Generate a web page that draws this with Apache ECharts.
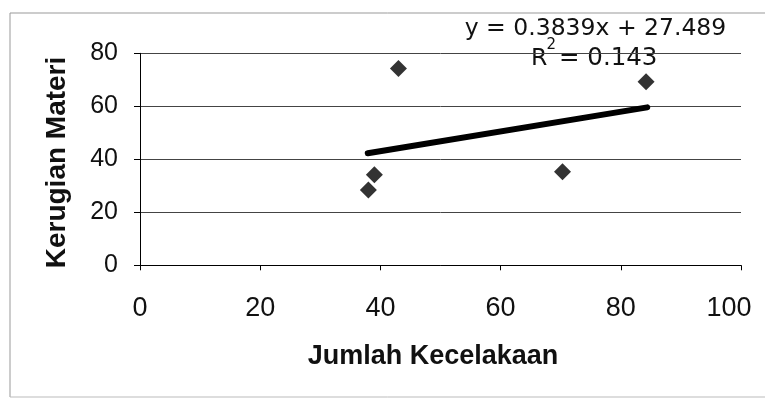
<!DOCTYPE html>
<html>
<head>
<meta charset="utf-8">
<style>
html,body{margin:0;padding:0;background:#fff;}
#c{width:765px;height:402px;}
</style>
<script src="https://cdn.jsdelivr.net/npm/echarts@6/dist/echarts.min.js"></script>
</head>
<body>
<div id="c"></div>
<script>
// Data
var jumlahKecelakaan = [43, 39, 38, 70.3, 84.2];
var kerugianMateri = [74.3, 34.2, 28.4, 35.3, 69.3];
var trendX = [37.9, 84.4];
var trendY = [42.3, 59.6];
var equationText = 'y = 0.3839x + 27.489';
var r2Value = '0.143';
var xTitle = 'Jumlah Kecelakaan';
var yTitle = 'Kerugian Materi';

var points = jumlahKecelakaan.map(function (x, i) { return [x, kerugianMateri[i]]; });
var trend = trendX.map(function (x, i) { return [x, trendY[i]]; });

var chart = echarts.init(document.getElementById('c'), null, {renderer: 'canvas'});
chart.setOption({
  animation: false,
  backgroundColor: '#ffffff',
  grid: {left: 140, right: 24, top: 53.3, bottom: 136.7},
  xAxis: {
    type: 'value', min: 0, max: 100, interval: 20,
    axisLine: {show: true, onZero: false, lineStyle: {color: '#000', width: 1}},
    axisTick: {show: true, length: 5, lineStyle: {color: '#000'}},
    splitLine: {show: false},
    axisLabel: {
      margin: 30, color: '#111', fontFamily: 'Liberation Sans', fontSize: 27,
      formatter: function (v) { return v === 100 ? '{r|' + v + '}' : String(v); },
      rich: {r: {fontFamily: 'Liberation Sans', fontSize: 27, color: '#111', padding: [0, 24, 0, 0]}}
    }
  },
  yAxis: {
    type: 'value', min: 0, max: 80, interval: 20,
    axisLine: {show: true, onZero: false, lineStyle: {color: '#000', width: 1}},
    axisTick: {show: true, length: 6, lineStyle: {color: '#000'}},
    splitLine: {show: true, lineStyle: {color: '#444', width: 1}},
    axisLabel: {margin: 22, color: '#111', fontFamily: 'Liberation Sans', fontSize: 25}
  },
  series: [
    {
      type: 'line', data: trend, showSymbol: false, symbol: 'none',
      lineStyle: {color: '#000', width: 6, cap: 'round'}, z: 2
    },
    {
      type: 'scatter', data: points, symbol: 'diamond', symbolSize: 17,
      itemStyle: {color: '#000'}, z: 3
    }
  ],
  graphic: [
    {type: 'line', shape: {x1: 10, y1: 13, x2: 765, y2: 13}, style: {stroke: '#999', lineWidth: 1}, silent: true},
    {type: 'line', shape: {x1: 10, y1: 13, x2: 10, y2: 397}, style: {stroke: '#999', lineWidth: 1}, silent: true},
    {type: 'line', shape: {x1: 10, y1: 397, x2: 765, y2: 397}, style: {stroke: '#bbb', lineWidth: 1}, silent: true},
    {type: 'text', x: 595.5, y: 29, style: {text: equationText, fill: '#111', font: '23.5px "DejaVu Sans"', align: 'center', verticalAlign: 'middle'}},
    {type: 'text', x: 531, y: 59, style: {text: 'R', fill: '#111', font: '23.5px "DejaVu Sans"', align: 'left', verticalAlign: 'middle'}},
    {type: 'text', x: 546.5, y: 45, style: {text: '2', fill: '#111', font: '15px "DejaVu Sans"', align: 'left', verticalAlign: 'middle'}},
    {type: 'text', x: 559, y: 59, style: {text: '= ' + r2Value, fill: '#111', font: '24.5px "DejaVu Sans"', align: 'left', verticalAlign: 'middle'}},
    {type: 'text', x: 433, y: 357, style: {text: xTitle, fill: '#111', font: 'bold 27px "Liberation Sans"', align: 'center', verticalAlign: 'middle'}},
    {type: 'text', x: 57, y: 162.5, rotation: Math.PI / 2, style: {text: yTitle, fill: '#111', font: 'bold 28px "Liberation Sans"', align: 'center', verticalAlign: 'middle'}}
  ]
});
</script>
</body>
</html>
